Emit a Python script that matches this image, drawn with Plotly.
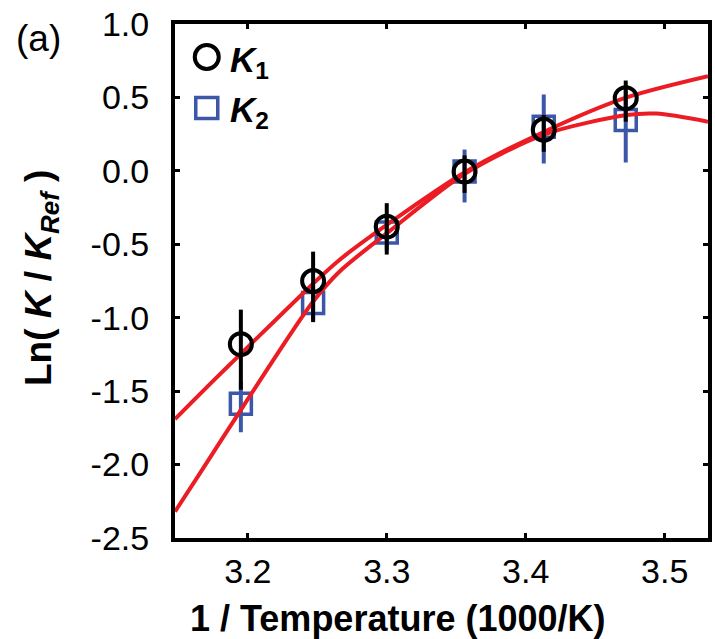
import plotly.graph_objects as go

# ---- data ----
inv_T = [3.195, 3.247, 3.300, 3.356, 3.413, 3.472]

k1 = [-1.18, -0.75, -0.38, -0.005, 0.28, 0.495]
k1_err_plus = [0.235, 0.20, 0.16, 0.11, 0.10, 0.12]
k1_err_minus = [0.31, 0.28, 0.19, 0.145, 0.15, 0.16]

k2 = [-1.585, -0.90, -0.42, -0.005, 0.30, 0.347]
k2_err_plus = [0.15, 0.12, 0.12, 0.15, 0.22, 0.20]
k2_err_minus = [0.195, 0.12, 0.12, 0.21, 0.25, 0.29]

fit1_x = [3.1476, 3.1655, 3.1869, 3.1962, 3.2462, 3.2655, 3.302, 3.3562, 3.4141, 3.4726, 3.5312]
fit1_y = [-1.69, -1.52, -1.32, -1.235, -0.775, -0.61, -0.355, -0.01, 0.27, 0.50, 0.645]

fit2_x = [3.1476, 3.1655, 3.1969, 3.2462, 3.2655, 3.302, 3.3562, 3.4141, 3.4726, 3.4941, 3.5312]
fit2_y = [-2.32, -2.06, -1.60, -0.90, -0.69, -0.41, -0.02, 0.25, 0.38, 0.39, 0.335]

x_ticks = [3.2, 3.3, 3.4, 3.5]
y_ticks = [1.0, 0.5, 0.0, -0.5, -1.0, -1.5, -2.0, -2.5]

RED = "#ec1c24"
BLUE = "#3c57a8"
FONT = "Liberation Sans, Arial, sans-serif"

fig = go.Figure()

fig.add_trace(go.Scatter(
    x=inv_T, y=k2, mode="markers", showlegend=False,
    marker=dict(symbol="square-open", size=21, color=BLUE, line=dict(width=3.5, color=BLUE)),
    error_y=dict(type="data", symmetric=False, array=k2_err_plus, arrayminus=k2_err_minus,
                 color=BLUE, thickness=4, width=0),
))

fig.add_trace(go.Scatter(x=fit1_x, y=fit1_y, mode="lines",
                         line=dict(color=RED, width=4, shape="spline", smoothing=0.8),
                         showlegend=False))
fig.add_trace(go.Scatter(x=fit2_x, y=fit2_y, mode="lines",
                         line=dict(color=RED, width=4, shape="spline", smoothing=0.8),
                         showlegend=False))

fig.add_trace(go.Scatter(
    x=inv_T, y=k1, mode="markers", showlegend=False,
    marker=dict(symbol="circle-open", size=22, color="black", line=dict(width=4, color="black")),
    error_y=dict(type="data", symmetric=False, array=k1_err_plus, arrayminus=k1_err_minus,
                 color="black", thickness=4, width=0),
))

L, R, T, B = 175, 3, 24, 101
W, H = 715, 639
pw, ph = W - L - R, H - T - B


def px(xp):
    return (xp - L) / pw


def py(yp):
    return (H - B - yp) / ph


axis_common = dict(
    showline=True, linewidth=4, linecolor="black", mirror="ticks",
    ticks="inside", ticklen=5, tickwidth=3, tickcolor="black",
    showgrid=False, zeroline=False,
    tickfont=dict(family=FONT, size=34, color="black"),
)

fig.update_xaxes(range=[3.1476, 3.5312], tickvals=x_ticks, ticktext=[f"{v:.1f}" for v in x_ticks],
                 ticklabelstandoff=0, **axis_common)
fig.update_yaxes(range=[-2.5, 1.0], tickvals=y_ticks, ticktext=[f"{v:.1f}" for v in y_ticks],
                 ticklabelstandoff=15, **axis_common)

annotations = [
    dict(text="<b>1 / Temperature (1000/K)</b>", x=px(400), y=py(618), xref="paper", yref="paper",
         showarrow=False, xanchor="center", yanchor="middle", font=dict(family=FONT, size=36, color="black")),
    dict(text="<b>Ln( <i>K</i> / <i>K</i><sub><i>Ref</i></sub> )</b>", x=px(40), y=py(278),
         xref="paper", yref="paper", showarrow=False, textangle=-90, xanchor="center", yanchor="middle",
         font=dict(family=FONT, size=37, color="black")),
    dict(text="(a)", x=px(37), y=py(38), xref="paper", yref="paper", showarrow=False,
         xanchor="center", yanchor="middle", font=dict(family=FONT, size=37, color="black")),
    dict(text="<b><i>K</i></b><sub><b>1</b></sub>", x=px(228), y=py(62), xref="paper", yref="paper",
         showarrow=False, xanchor="left", yanchor="middle", font=dict(family=FONT, size=35, color="black")),
    dict(text="<b><i>K</i></b><sub><b>2</b></sub>", x=px(228), y=py(112), xref="paper", yref="paper",
         showarrow=False, xanchor="left", yanchor="middle", font=dict(family=FONT, size=35, color="black")),
]

shapes = [
    dict(type="circle", xref="paper", yref="paper", xsizemode="pixel", ysizemode="pixel",
         xanchor=px(207), yanchor=py(57), x0=-12, x1=12, y0=-12, y1=12,
         line=dict(color="black", width=4)),
    dict(type="rect", xref="paper", yref="paper", xsizemode="pixel", ysizemode="pixel",
         xanchor=px(207), yanchor=py(108), x0=-11, x1=11, y0=-10.5, y1=10.5,
         line=dict(color=BLUE, width=3.5)),
]

fig.update_layout(
    width=W, height=H, margin=dict(l=L, r=R, t=T, b=B),
    paper_bgcolor="white", plot_bgcolor="white",
    annotations=annotations, shapes=shapes, showlegend=False,
)

fig.write_html("out.html")
